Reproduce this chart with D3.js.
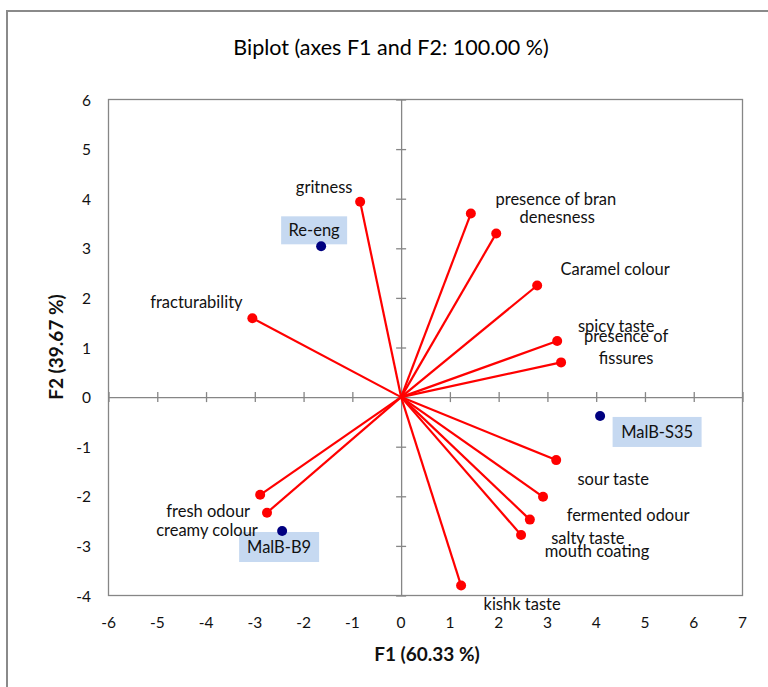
<!DOCTYPE html>
<html><head><meta charset="utf-8">
<script src="https://cdn.jsdelivr.net/npm/d3@7"></script>
<style>
html,body{margin:0;padding:0;background:#fff;}
svg{display:block;font-family:Lato,"Open Sans",sans-serif;}
</style></head>
<body>
<svg id="chart" width="768" height="687"></svg>
<script>
// ---- data ----
const variableNames = ["gritness","presence of bran","denesness","Caramel colour","spicy taste","presence of\nfissures","sour taste","fermented odour","salty taste","mouth coating","kishk taste","fresh odour","creamy colour","fracturability"];
const variableF1 = [-0.84, 1.43, 1.95, 2.79, 3.20, 3.28, 3.18, 2.91, 2.64, 2.46, 1.23, -2.89, -2.75, -3.05];
const variableF2 = [3.94, 3.70, 3.30, 2.25, 1.13, 0.70, -1.27, -2.01, -2.47, -2.78, -3.80, -1.97, -2.33, 1.59];
const observationNames = ["Re-eng","MalB-S35","MalB-B9"];
const observationF1 = [-1.64, 4.08, -2.44];
const observationF2 = [3.04, -0.38, -2.70];
const xTicks = [-6,-5,-4,-3,-2,-1,0,1,2,3,4,5,6,7];
const yTicks = [-4,-3,-2,-1,0,1,2,3,4,5,6];
const titleText = "Biplot (axes F1 and F2: 100.00 %)";
const xTitle = "F1 (60.33 %)";
const yTitle = "F2 (39.67 %)";

// ---- layout (label placement in pixels relative to the point) ----
const varLabelOffset = [[-36,-15],[85,-15],[61,-16],[78,-17],[59,-15],[65,-26],[57,19],[85,18],[58,18],[76,16],[61,18],[-52,16],[-60,17],[-56,-16]];
const obsLabelOffset = [[-7,-16],[57,16],[-3,16]];
const obsBox = [[66,28],[89,30],[80,30]];

const svg = d3.select("#chart");
const x = d3.scaleLinear().domain([-6,7]).range([108.5,742.5]);
const y = d3.scaleLinear().domain([-4,6]).range([595.5,99.5]);
const grey = "#868686";
const ink = "#111";

// outer frame
svg.append("path").attr("d","M7,700 L7,11 L780,11").attr("fill","none").attr("stroke","#8a8a8a").attr("stroke-width",2);

// plot border
svg.append("rect").attr("x",x(-6)).attr("y",y(6)).attr("width",x(7)-x(-6)).attr("height",y(-4)-y(6))
  .attr("fill","none").attr("stroke",grey).attr("stroke-width",1.3);

// axes through origin with cross ticks
const xAxis = d3.axisBottom(x).tickValues(xTicks).tickSize(0).tickFormat("");
const gx = svg.append("g").attr("transform",`translate(0,${y(0)})`).call(xAxis);
gx.select(".domain").attr("stroke",grey).attr("stroke-width",1.3);
gx.selectAll(".tick").append("line").attr("y1",-5).attr("y2",5).attr("stroke",grey).attr("stroke-width",1.3);

const yAxis = d3.axisLeft(y).tickValues(yTicks).tickSize(0).tickFormat("");
const gy = svg.append("g").attr("transform",`translate(${x(0)},0)`).call(yAxis);
gy.select(".domain").attr("stroke",grey).attr("stroke-width",1.3);
gy.selectAll(".tick").append("line").attr("x1",-5).attr("x2",5).attr("stroke",grey).attr("stroke-width",1.3);

// tick labels
svg.append("g").selectAll("text").data(xTicks).join("text")
  .attr("x",d=>x(d)).attr("y",622).attr("text-anchor","middle").attr("dominant-baseline","central")
  .attr("font-size",15.5).attr("fill",ink).text(d=>d);
svg.append("g").selectAll("text").data(yTicks).join("text")
  .attr("x",91).attr("y",d=>y(d)).attr("text-anchor","end").attr("dominant-baseline","central")
  .attr("font-size",15.5).attr("fill",ink).text(d=>d);

// titles
svg.append("text").attr("x",391).attr("y",47).attr("text-anchor","middle").attr("dominant-baseline","central")
  .attr("font-size",21.5).attr("fill","#000").text(titleText);
svg.append("text").attr("x",427).attr("y",653).attr("text-anchor","middle").attr("dominant-baseline","central")
  .attr("font-size",19).attr("font-weight","bold").attr("fill",ink).text(xTitle);
svg.append("text").attr("transform","translate(55,347) rotate(-90)").attr("text-anchor","middle").attr("dominant-baseline","central")
  .attr("font-size",19).attr("font-weight","bold").attr("fill",ink).text(yTitle);

// observation label boxes (below everything else)
const obs = observationNames.map((n,i)=>({name:n,f1:observationF1[i],f2:observationF2[i],off:obsLabelOffset[i],box:obsBox[i]}));
svg.append("g").selectAll("rect").data(obs).join("rect")
  .attr("x",d=>x(d.f1)+d.off[0]-d.box[0]/2).attr("y",d=>y(d.f2)+d.off[1]-d.box[1]/2)
  .attr("width",d=>d.box[0]).attr("height",d=>d.box[1]).attr("fill","#c6d9f1");

// variable vectors
const vars = variableNames.map((n,i)=>({name:n,f1:variableF1[i],f2:variableF2[i],off:varLabelOffset[i]}));
svg.append("g").selectAll("line").data(vars).join("line")
  .attr("x1",x(0)).attr("y1",y(0)).attr("x2",d=>x(d.f1)).attr("y2",d=>y(d.f2))
  .attr("stroke","#ff0000").attr("stroke-width",2.2);
svg.append("g").selectAll("circle").data(vars).join("circle")
  .attr("cx",d=>x(d.f1)).attr("cy",d=>y(d.f2)).attr("r",5).attr("fill","#ff0000");
const vl = svg.append("g").selectAll("text").data(vars).join("text")
  .attr("text-anchor","middle").attr("font-size",16.5).attr("fill",ink);
vl.each(function(d){
  const t = d3.select(this);
  const lines = d.name.split("\n");
  lines.forEach((ln,k)=>{
    t.append("tspan").attr("x",x(d.f1)+d.off[0]).attr("y",y(d.f2)+d.off[1]+k*22)
      .attr("dominant-baseline","central").text(ln);
  });
});

// observation points and labels
svg.append("g").selectAll("circle").data(obs).join("circle")
  .attr("cx",d=>x(d.f1)).attr("cy",d=>y(d.f2)).attr("r",5).attr("fill","#000080");
svg.append("g").selectAll("text").data(obs).join("text")
  .attr("x",d=>x(d.f1)+d.off[0]).attr("y",d=>y(d.f2)+d.off[1]).attr("text-anchor","middle").attr("dominant-baseline","central")
  .attr("font-size",16.5).attr("fill",ink).text(d=>d.name);
</script>
</body></html>
